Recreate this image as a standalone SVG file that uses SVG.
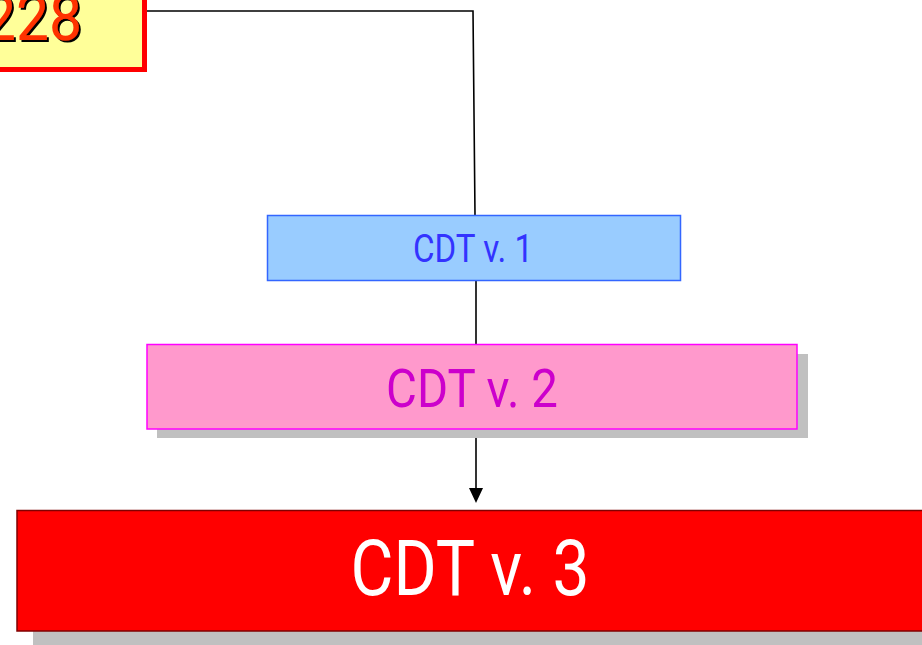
<svg xmlns="http://www.w3.org/2000/svg" width="922" height="645" viewBox="0 0 922 645">
<style>
text{font-family:Roboto,"Liberation Sans",sans-serif;text-anchor:middle}
.conn{stroke:#000;stroke-width:1.6;fill:none}
.shadow{fill:#C0C0C0}
</style>
<defs>
<filter id="tshadow" x="-20%" y="-20%" width="140%" height="140%">
<feOffset in="SourceAlpha" dx="2" dy="2" result="off"/>
<feFlood flood-color="#000"/>
<feComposite in2="off" operator="in" result="sh"/>
<feMerge><feMergeNode in="sh"/><feMergeNode in="SourceGraphic"/></feMerge>
</filter>
</defs>
<rect width="922" height="645" fill="#fff"/>
<g id="connectors">
<path class="conn" d="M147,11 L473,11 L475,215"/>
<path class="conn" d="M476,281 L476,344"/>
<path class="conn" d="M476,429 L476,488"/>
<path d="M469,488 L483,488 L476,503 Z" fill="#000"/>
</g>
<g id="node228">
<rect x="-10" y="-10" width="154.5" height="79.5" fill="#FFFF99" stroke="#FF0000" stroke-width="5"/>
<text x="82" y="40" font-size="64" fill="#FF3300" style="text-anchor:end" textLength="99" lengthAdjust="spacingAndGlyphs" filter="url(#tshadow)">228</text>
</g>
<g id="cdt1">
<rect x="267.5" y="215.5" width="413" height="65" fill="#99CCFF" stroke="#3366FF" stroke-width="1.5"/>
<text x="473" y="262" font-size="38" fill="#3333FF" textLength="120" lengthAdjust="spacingAndGlyphs">CDT v. 1</text>
</g>
<g id="cdt2">
<rect class="shadow" x="157" y="354" width="651" height="84"/>
<rect x="147" y="344.5" width="650" height="84.5" fill="#FF99CC" stroke="#FF00FF" stroke-width="1.5"/>
<text x="472" y="407" font-size="53" fill="#CC00CC" textLength="172" lengthAdjust="spacingAndGlyphs">CDT v. 2</text>
</g>
<g id="cdt3">
<rect class="shadow" x="33" y="526" width="900" height="120"/>
<rect x="17" y="510.5" width="915" height="120.5" fill="#FF0000" stroke="#800000" stroke-width="1.5"/>
<text x="470" y="595" font-size="77" fill="#FFFFFF" textLength="239" lengthAdjust="spacingAndGlyphs">CDT v. 3</text>
</g>
</svg>
